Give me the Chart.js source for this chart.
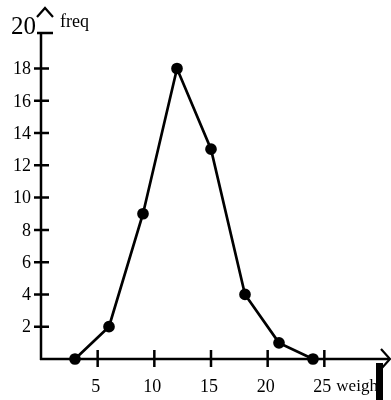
<!DOCTYPE html>
<html>
<head>
<meta charset="utf-8">
<script src="https://cdn.jsdelivr.net/npm/chart.js@4/dist/chart.umd.min.js"></script>
<style>
  html, body { margin: 0; padding: 0; background: #fff; }
  #wrap { width: 391px; height: 400px; }
</style>
</head>
<body>
<div id="wrap"><canvas id="graph"></canvas></div>
<script>
// data
const weights = [3, 6, 9, 12, 15, 18, 21, 24];
const freqs = [0, 2, 9, 18, 13, 4, 1, 0];
const xTicks = [5, 10, 15, 20, 25];
const yTicks = [2, 4, 6, 8, 10, 12, 14, 16, 18];
const yTopLabel = "20";
const xTitle = "weigh";
const yTitle = "freq";

const serif = "'Liberation Serif', 'DejaVu Serif', serif";

// hand-drawn looking axes: ticks cross the line, arrow heads at the ends
const axesPlugin = {
  id: "axes",
  beforeDatasetsDraw(chart) {
    const ctx = chart.ctx;
    const x = chart.scales.x, y = chart.scales.y;
    const x0 = x.getPixelForValue(0), y0 = y.getPixelForValue(0);
    const top = chart.chartArea.top;
    ctx.save();
    ctx.strokeStyle = "#000";
    ctx.lineWidth = 2.5;
    ctx.lineCap = "butt";
    ctx.beginPath();
    // y axis with a cap at the top
    ctx.moveTo(x0, y0 + 1);
    ctx.lineTo(x0, top);
    ctx.moveTo(x0 - 4, top);
    ctx.lineTo(x0 + 12, top);
    // x axis
    ctx.moveTo(x0 - 1, y0);
    ctx.lineTo(chart.width - 2, y0);
    ctx.stroke();

    ctx.beginPath();
    yTicks.forEach((v) => {
      const p = y.getPixelForValue(v);
      ctx.moveTo(x0 - 7, p);
      ctx.lineTo(x0 + 8, p);
    });
    xTicks.forEach((v) => {
      const p = x.getPixelForValue(v);
      ctx.moveTo(p, y0 - 9);
      ctx.lineTo(p, y0 + 8);
    });
    ctx.stroke();

    // arrow heads
    ctx.lineWidth = 2.2;
    ctx.beginPath();
    ctx.moveTo(x0 - 4, top - 16);
    ctx.lineTo(x0 + 4, top - 25);
    ctx.lineTo(x0 + 12, top - 16);
    const r = chart.width - 1;
    ctx.moveTo(r - 9, y0 - 10);
    ctx.lineTo(r, y0);
    ctx.lineTo(r - 9, y0 + 10);
    ctx.stroke();

    // labels
    ctx.fillStyle = "#000";
    ctx.font = "18px " + serif;
    ctx.textAlign = "right";
    ctx.textBaseline = "middle";
    yTicks.forEach((v) => {
      ctx.fillText(String(v), x0 - 10, y.getPixelForValue(v) + 1);
    });
    ctx.textAlign = "center";
    xTicks.forEach((v) => {
      ctx.fillText(String(v), x.getPixelForValue(v) - 2, y0 + 28);
    });
    ctx.textAlign = "left";
    ctx.font = "17px " + serif;
    ctx.fillText(xTitle, x.getPixelForValue(25) + 12, y0 + 28);
    ctx.font = "18px " + serif;
    ctx.textBaseline = "alphabetic";
    ctx.fillText(yTitle, x0 + 19, top - 6);
    ctx.font = "25px " + serif;
    ctx.textAlign = "right";
    ctx.fillText(yTopLabel, x0 - 5, top + 1);

    // black bar at the lower right corner
    ctx.fillRect(376, y0 + 4, 7, chart.height - y0 - 4);
    ctx.restore();
  },
};

const chart = new Chart(document.getElementById("graph").getContext("2d"), {
  type: "scatter",
  data: {
    datasets: [
      {
        data: weights.map((w, i) => ({ x: w, y: freqs[i] })),
        showLine: true,
        borderColor: "#000",
        backgroundColor: "#000",
        borderWidth: 2.7,
        pointRadius: 4.5,
        pointHoverRadius: 4.5,
        tension: 0,
        clip: false,
      },
    ],
  },
  options: {
    responsive: true,
    maintainAspectRatio: false,
    animation: false,
    events: [],
    layout: { padding: { left: 41, top: 33, right: 10, bottom: 41 } },
    plugins: { legend: { display: false }, tooltip: { enabled: false } },
    scales: {
      x: { type: "linear", min: 0, max: 30, display: false },
      y: { type: "linear", min: 0, max: 20.2, display: false },
    },
  },
  plugins: [axesPlugin],
});
</script>
</body>
</html>
